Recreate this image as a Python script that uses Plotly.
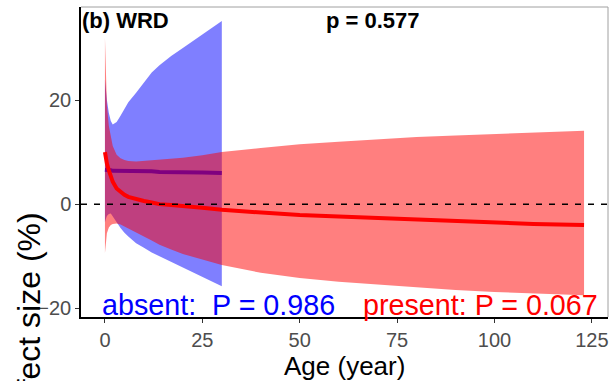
import plotly.graph_objects as go

# ---- data ----
present_age = [0, 0.25, 0.5, 1, 1.5, 2, 3, 4, 5, 6, 8, 10, 12, 14, 17, 20, 25, 30, 40, 50, 60, 70, 80, 90, 100, 110, 123]
present_fit = [10.0, 8.7, 7.8, 6.5, 5.3, 4.3, 3.0, 2.3, 1.8, 1.4, 0.9, 0.6, 0.3, 0.0, -0.15, -0.3, -0.7, -1.1, -1.6, -2.1, -2.4, -2.7, -3.0, -3.3, -3.5, -3.8, -4.0]
present_upper = [32.0, 24.0, 19.0, 15.0, 13.0, 11.2, 9.5, 8.8, 8.5, 8.3, 8.2, 8.3, 8.4, 8.5, 8.7, 8.9, 9.4, 10.0, 10.8, 11.5, 12.0, 12.5, 12.9, 13.2, 13.5, 13.8, 14.1]
present_lower = [-9.4, -7.0, -5.6, -4.5, -4.0, -3.8, -3.7, -3.9, -4.3, -4.7, -5.4, -6.2, -7.0, -7.8, -8.7, -9.6, -10.7, -11.7, -13.2, -14.2, -14.9, -15.5, -16.0, -16.5, -16.9, -17.2, -17.5]

absent_age = [0, 0.25, 0.5, 1, 1.5, 2, 3, 4, 5, 6, 8, 10, 12, 14, 17, 20, 25, 30]
absent_fit = [6.6, 6.6, 6.5, 6.5, 6.5, 6.4, 6.4, 6.4, 6.4, 6.3, 6.3, 6.3, 6.3, 6.2, 6.2, 6.2, 6.1, 6.0]
absent_upper = [24.0, 21.5, 20.0, 17.5, 16.0, 15.3, 15.8, 17.0, 18.3, 19.6, 21.4, 23.4, 25.3, 26.7, 28.5, 30.0, 32.6, 35.2]
absent_lower = [-3.5, -2.8, -2.3, -1.9, -1.8, -2.2, -3.5, -4.6, -5.5, -6.2, -7.5, -8.4, -9.3, -10.1, -11.1, -12.2, -14.0, -15.8]

x_ticks = [0, 25, 50, 75, 100, 125]
y_ticks = [-20, 0, 20]

panel_label = "(b) WRD"
p_label = "p = 0.577"
absent_label = "absent:\u00a0 P = 0.986"
present_label = "present: P = 0.067"

FONT = "Liberation Sans, Arial, sans-serif"

fig = go.Figure()

# absent band + line
fig.add_trace(go.Scatter(
    x=absent_age + absent_age[::-1],
    y=absent_upper + absent_lower[::-1],
    fill="toself", fillcolor="rgba(0,0,255,0.5)",
    line=dict(width=0), mode="lines", hoverinfo="skip", showlegend=False))
fig.add_trace(go.Scatter(
    x=absent_age, y=absent_fit, mode="lines",
    line=dict(color="rgb(0,0,255)", width=4), showlegend=False))

# present band + line
fig.add_trace(go.Scatter(
    x=present_age + present_age[::-1],
    y=present_upper + present_lower[::-1],
    fill="toself", fillcolor="rgba(255,0,0,0.5)",
    line=dict(width=0), mode="lines", hoverinfo="skip", showlegend=False))
fig.add_trace(go.Scatter(
    x=present_age, y=present_fit, mode="lines",
    line=dict(color="rgb(255,0,0)", width=4), showlegend=False))

# zero reference line
fig.add_shape(type="line", xref="paper", yref="y", x0=0, x1=1, y0=0, y1=0,
              line=dict(color="black", width=1.5, dash="6px,7px"), layer="above")
# grey panel border (top and right)
fig.add_shape(type="line", xref="paper", yref="paper", x0=0, x1=1, y0=1, y1=1,
              line=dict(color="#A0A0A0", width=1))
fig.add_shape(type="line", xref="paper", yref="paper", x0=1, x1=1, y0=0, y1=1,
              line=dict(color="#A0A0A0", width=1))

axis_common = dict(showgrid=False, zeroline=False, showline=True, linecolor="black",
                   linewidth=1.5, ticks="outside", ticklen=4, tickcolor="#333333",
                   tickwidth=1, tickfont=dict(family=FONT, size=20, color="#4D4D4D"))

fig.update_xaxes(range=[-6.15, 129.15], tickvals=x_ticks, **axis_common)
fig.update_yaxes(range=[-21.7, 37.9], tickvals=y_ticks, **axis_common)

ann = []
ann.append(dict(text="<b>" + panel_label + "</b>", xref="paper", yref="paper", x=-0.002, y=0.955,
                xanchor="left", yanchor="middle", showarrow=False,
                font=dict(family=FONT, size=22, color="black")))
ann.append(dict(text="<b>" + p_label + "</b>", xref="paper", yref="paper", x=0.461, y=0.955,
                xanchor="left", yanchor="middle", showarrow=False,
                font=dict(family=FONT, size=22, color="black")))
ann.append(dict(text=absent_label, xref="x", yref="y", x=-1.2, y=-19.3,
                xanchor="left", yanchor="middle", showarrow=False,
                font=dict(family=FONT, size=28.7, color="blue")))
ann.append(dict(text=present_label, xref="x", yref="y", x=127.0, y=-19.3,
                xanchor="right", yanchor="middle", showarrow=False,
                font=dict(family=FONT, size=28.7, color="red")))
ann.append(dict(text="Age (year)", xref="paper", yref="paper", x=0.5, y=(317 - 366) / 310,
                xanchor="center", yanchor="middle", showarrow=False,
                font=dict(family=FONT, size=26, color="black")))
ann.append(dict(text="Effect size (%)", xref="paper", yref="paper", x=(29 - 81) / 527,
                y=(317 - 315) / 310, xanchor="center", yanchor="middle", textangle=-90,
                showarrow=False, font=dict(family=FONT, size=32, color="black")))

fig.update_layout(width=613, height=381, margin=dict(l=81, r=5, t=7, b=64),
                  paper_bgcolor="white", plot_bgcolor="white", annotations=ann,
                  showlegend=False)

fig.write_html("out.html")
